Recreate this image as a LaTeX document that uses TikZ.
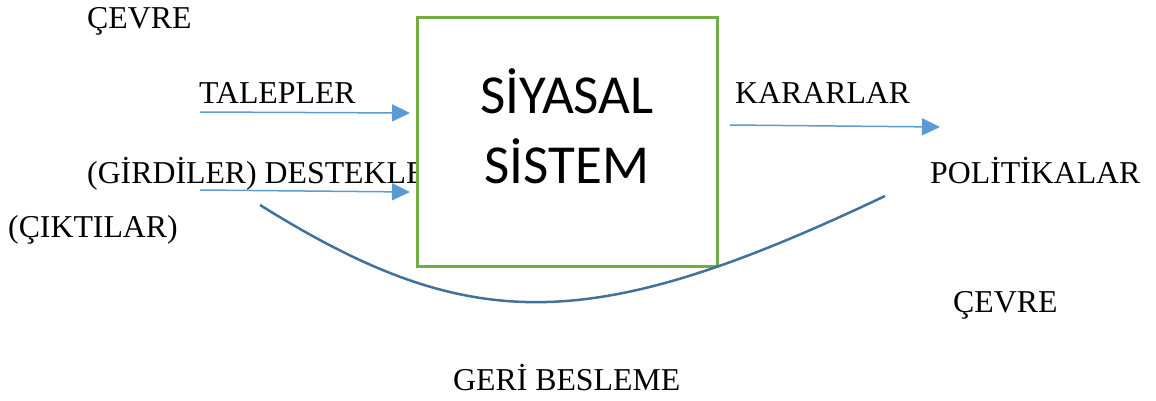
\documentclass[tikz,border=0pt]{standalone}
\usepackage{fontspec}
\setmainfont{Liberation Serif}
\newfontfamily\kutufont{Carlito}
\usetikzlibrary{arrows.meta}
\definecolor{kutuyesil}{HTML}{70AD47}
\definecolor{okmavi}{HTML}{5B9BD5}
\definecolor{egrimavi}{HTML}{41719C}
\begin{document}
\begin{tikzpicture}[x=1pt, y=-1pt]
	\tikzset{yazi/.style={anchor=base west, inner sep=0pt, font=\fontsize{31.8}{36}\selectfont},
	kutu/.style={draw=kutuyesil, line width=3pt, fill=white, minimum width=300pt, minimum height=248pt},
	kutuyazi/.style={align=center, font=\kutufont\fontsize{55}{70}\selectfont},
	ok/.style={-{Triangle[length=18pt,width=17pt]}, draw=okmavi, line width=1.5pt},
	geri/.style={draw=egrimavi, line width=2.5pt}};

	\useasboundingbox (0,0) rectangle (1156,401);

	% metinler
	\foreach \name/\x/\y/\text in {cevre1/87/29/ÇEVRE, talep/199/104/TALEPLER,
		girdi/87/183/(GİRDİLER) DESTEKLER, cikti/8/237/(ÇIKTILAR), karar/735/104/KARARLAR,
		politika/930/183/POLİTİKALAR, cevre2/953/312/ÇEVRE, geri/453/390/GERİ BESLEME}{
			\node[yazi] (\name) at (\x, \y) {\text};
	}

	\node[kutu] (sistem) at (567, 142) {};
	\node[kutuyazi] (sistem-yazi) at ([yshift=16pt]sistem.center) {SİYASAL\\SİSTEM};

	\coordinate (talep-bas) at (200, 112);
	\coordinate (talep-son) at (410, 113);
	\coordinate (destek-bas) at (200, 190);
	\coordinate (destek-son) at (410, 192);
	\coordinate (karar-bas) at (730, 125);
	\coordinate (karar-son) at (940, 127);
	\coordinate (geri-bas) at (260, 205);
	\coordinate (geri-son) at (885, 196);

	\draw[ok] (talep-bas) -- (talep-son);
	\draw[ok] (destek-bas) -- (destek-son);
	\draw[ok] (karar-bas) -- (karar-son);
	\draw[geri] (geri-bas) .. controls (470, 336) and (590, 336) .. (geri-son);

\end{tikzpicture}
\end{document}
